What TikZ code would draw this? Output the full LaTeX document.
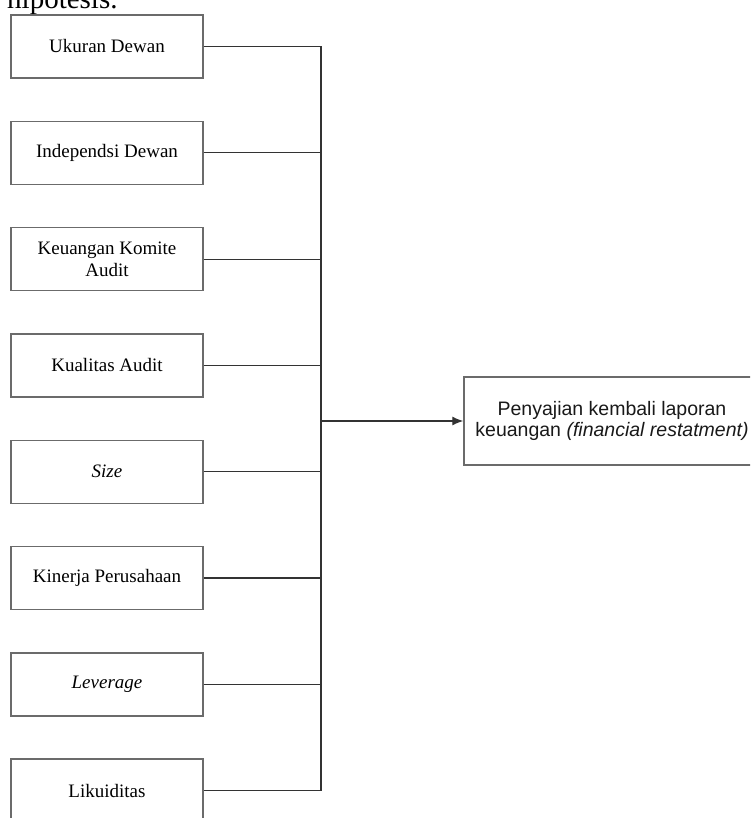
\documentclass[tikz,border=0pt]{standalone}
\usepackage{fontspec}
\setmainfont{Liberation Serif}
\newfontfamily\arialf{Liberation Sans}
\usetikzlibrary{arrows.meta}
\begin{document}
\begin{tikzpicture}[x=1pt,y=-1pt,
  varbox/.style={draw=black!58,line width=1.4pt,minimum width=192pt,minimum height=63pt,
    align=center,font=\fontsize{19pt}{22pt}\selectfont,inner sep=0pt,text=black},
  conn/.style={draw=black!80,line width=1.2pt},
  resbox/.style={draw=black!58,line width=1.4pt,minimum width=304pt,minimum height=88pt,
    align=center,font=\arialf\fontsize{19.5pt}{21pt}\selectfont,inner sep=0pt,text=black!90}]
\useasboundingbox (0,0) rectangle (750,818);
\clip (0,0) rectangle (750,818);
\node[anchor=base west,font=\fontsize{29pt}{30pt}\selectfont,inner sep=0pt] (hip) at (7,9) {hipotesis.};
\node[varbox] (b1) at (107,46.5) {Ukuran Dewan};
\node[varbox] (b2) at (107,152.8) {Independsi Dewan};
\node[varbox] (b3) at (107,259.1) {Keuangan Komite\\Audit};
\node[varbox] (b4) at (107,365.4) {Kualitas Audit};
\node[varbox] (b5) at (107,471.7) {\itshape Size};
\node[varbox] (b6) at (107,578.0) {Kinerja Perusahaan};
\node[varbox] (b7) at (107,684.3) {\itshape Leverage};
\node[varbox] (b8) at (107,790.6) {Likuiditas};
\node[resbox] (r) at (616,421) {\hspace*{-8pt}Penyajian kembali laporan\\\hspace*{-8pt}keuangan \textit{(financial restatment)}};
\coordinate (top) at (321,46.5);
\coordinate (bot) at (321,790.6);
\coordinate (mid) at (321,421);
\draw[conn] (b1.east) -- (top) -- (bot) -- (b8.east);
\foreach \i in {2,...,7} {\draw[conn] (b\i.east) -- (b\i.east -| top);}
\draw[conn,-{Latex[length=11pt,width=9pt]}] (mid) -- (r.west);
\end{tikzpicture}
\end{document}
